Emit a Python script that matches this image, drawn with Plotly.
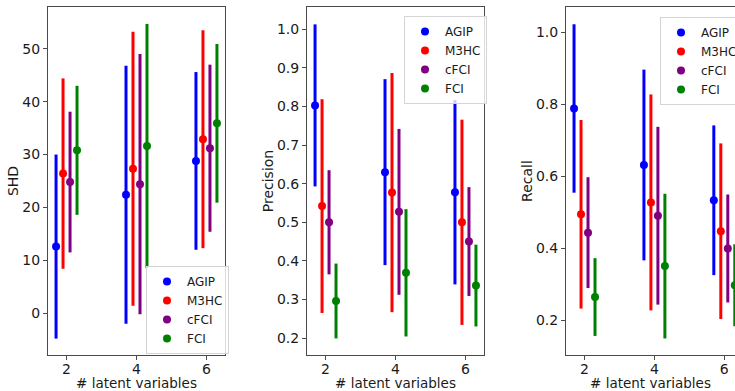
import plotly.graph_objects as go

METHODS = ["AGIP", "M3HC", "cFCI", "FCI"]
COLORS = ["blue", "red", "purple", "green"]
N_LATENT = [2, 4, 6]

# mean values per method (rows) and number of latent variables (columns)
SHD_MEAN = [[12.6, 22.4, 28.8], [26.4, 27.3, 32.9], [24.8, 24.4, 31.2], [30.8, 31.6, 35.9]]
SHD_STD = [[17.4, 24.4, 16.8], [18.0, 25.9, 20.6], [13.3, 24.6, 15.8], [12.2, 23.1, 15.0]]
PREC_MEAN = [[0.803, 0.630, 0.578], [0.542, 0.577, 0.500], [0.500, 0.527, 0.450], [0.296, 0.369, 0.336]]
PREC_STD = [[0.210, 0.241, 0.239], [0.277, 0.310, 0.266], [0.135, 0.215, 0.141], [0.097, 0.165, 0.106]]
REC_MEAN = [[0.788, 0.631, 0.533], [0.494, 0.527, 0.447], [0.443, 0.490, 0.399], [0.264, 0.350, 0.297]]
REC_STD = [[0.234, 0.265, 0.208], [0.262, 0.300, 0.244], [0.154, 0.247, 0.150], [0.108, 0.201, 0.114]]

OFFSETS = [-0.3, -0.1, 0.1, 0.3]

W, H = 735, 391
MT, MB = 7, 36
PH = H - MT - MB

FONT = "DejaVu Sans"
TXT = "#1a1a1a"
AX = "#4a4a4a"

panels = [
    dict(mean=SHD_MEAN, std=SHD_STD, title="SHD", yrange=[-7.9, 57.9], xpx=[48, 225],
         xrange=[1.47, 6.53], tickvals=[0, 10, 20, 30, 40, 50], fmt="d", ymirror=True,
         leg=(146, 266)),
    dict(mean=PREC_MEAN, std=PREC_STD, title="Precision", yrange=[0.156, 1.058], xpx=[307, 484],
         xrange=[1.47, 6.53], tickvals=[0.2, 0.3, 0.4, 0.5, 0.6, 0.7, 0.8, 0.9, 1.0], fmt=".1f",
         ymirror=True, leg=(404, 16)),
    dict(mean=REC_MEAN, std=REC_STD, title="Recall", yrange=[0.103, 1.070], xpx=[566, 735],
         xrange=[1.47, 6.306], tickvals=[0.2, 0.4, 0.6, 0.8, 1.0], fmt=".1f", ymirror=False,
         leg=(660, 17)),
]

fig = go.Figure()
layout = dict(
    width=W, height=H,
    margin=dict(l=0, r=0, t=MT, b=MB, pad=0, autoexpand=False),
    paper_bgcolor="white", plot_bgcolor="white",
    font=dict(family=FONT, size=14, color=TXT),
    showlegend=True,
)

for p, cfg in enumerate(panels, start=1):
    sfx = "" if p == 1 else str(p)
    legname = "legend" if p == 1 else f"legend{p}"
    for m, (name, color) in enumerate(zip(METHODS, COLORS)):
        fig.add_trace(go.Scatter(
            x=[n + OFFSETS[m] for n in N_LATENT],
            y=cfg["mean"][m],
            error_y=dict(type="data", array=cfg["std"][m], thickness=3, width=0, color=color),
            mode="markers",
            marker=dict(color=color, size=8),
            name=name,
            xaxis=f"x{sfx}", yaxis=f"y{sfx}",
            legend=legname,
        ))
    layout[f"xaxis{sfx}"] = dict(
        domain=[cfg["xpx"][0] / W, cfg["xpx"][1] / W],
        range=cfg["xrange"], tickvals=N_LATENT, ticktext=[str(n) for n in N_LATENT],
        showline=True, linecolor=AX, linewidth=1, mirror=True,
        ticks="outside", ticklen=4, tickcolor=AX, tickwidth=1, ticklabelstandoff=-3,
        showgrid=False, zeroline=False, anchor=f"y{sfx}",
        tickfont=dict(family=FONT, size=14, color=TXT),
        title=dict(text="# latent variables", font=dict(family=FONT, size=13.5, color=TXT), standoff=5),
    )
    layout[f"yaxis{sfx}"] = dict(
        domain=[0, 1], range=cfg["yrange"], tickvals=cfg["tickvals"], tickformat=cfg["fmt"],
        showline=True, linecolor=AX, linewidth=1, mirror=cfg["ymirror"],
        ticks="outside", ticklen=4, tickcolor=AX, tickwidth=1,
        showgrid=False, zeroline=False, anchor=f"x{sfx}",
        tickfont=dict(family=FONT, size=14, color=TXT),
        title=dict(text=cfg["title"], font=dict(family=FONT, size=14, color=TXT), standoff=0),
    )
    lx, ly = cfg["leg"]
    layout[legname] = dict(
        x=lx / W, y=(H - MB - ly) / PH, xanchor="left", yanchor="top",
        bgcolor="rgba(255,255,255,0.8)", bordercolor="#d4d4d4", borderwidth=1,
        font=dict(family=FONT, size=12, color=TXT),
        tracegroupgap=0, itemwidth=30,
    )

fig.update_layout(**layout)
fig.write_html(
    "out.html",
    config={"displayModeBar": False},
    post_script="document.body.style.margin='0';document.body.style.overflow='hidden';",
)
